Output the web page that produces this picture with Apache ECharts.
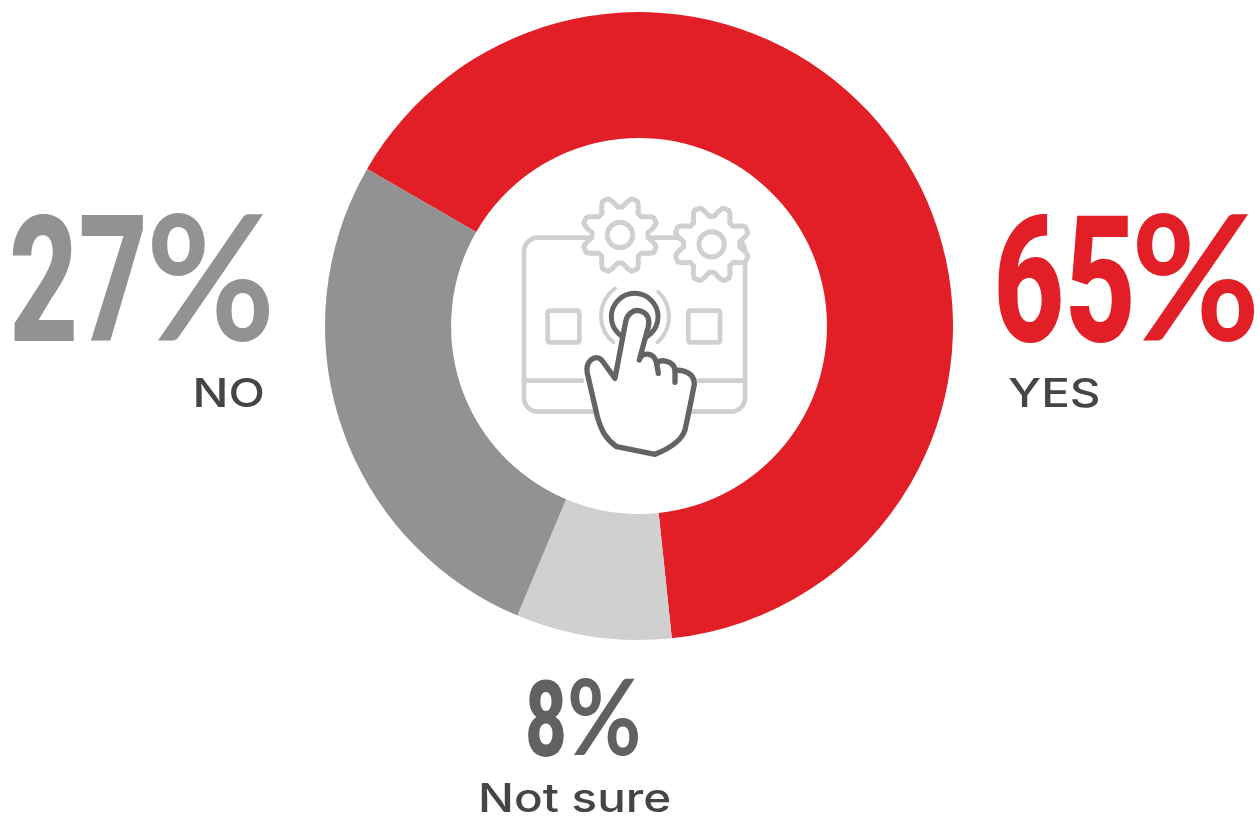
<!DOCTYPE html>
<html>
<head>
<meta charset="utf-8">
<style>html,body{margin:0;padding:0;background:#fff}#chart{width:1260px;height:816px}</style>
<script src="https://cdn.jsdelivr.net/npm/echarts@6/dist/echarts.min.js"></script>
</head>
<body>
<div id="chart"></div>
<script>
// Survey answers, listed clockwise around the ring
const categories = ['YES', 'Not sure', 'NO'];
const shares = [65, 8, 27];
const sliceColors = ['#e21e26', '#d0d0d0', '#929292'];
const figureColors = ['#e21e26', '#606261', '#929292'];

const LIGHT = '#d0d0d0';
const DARK = '#636463';

// Outline of an 8-toothed cog as a list of points
function cogPoints(cx, cy, rIn, rOut) {
  const pts = [];
  const steps = 240;
  for (let i = 0; i < steps; i++) {
    const a = (i / steps) * Math.PI * 2;
    const w = Math.cos(8 * (a - Math.PI / 8));
    const k = Math.max(-1, Math.min(1, w * 1.25));
    const r = rIn + (rOut - rIn) * (k + 1) / 2;
    pts.push([cx + r * Math.sin(a), cy - r * Math.cos(a)]);
  }
  return pts;
}

const handOutline =
  'M315 580 L347 410 C352 385 372 372 392 378 C412 384 420 402 415 425 L388 525 ' +
  'C395 500 432 500 440 535 C450 522 490 525 495 555 C515 555 553 560 553 598 ' +
  'C545 640 535 690 525 735 C515 765 480 790 435 808 L320 785 C290 765 275 740 262 695 L232 565 ' +
  'C225 530 255 505 275 525 L315 580 Z';
echarts.graphic.registerShape('handOutline', echarts.graphic.extendPath(handOutline, {}));

// Touch-screen pictogram, authored on a 250x280 box scaled by 3
const lineStyle = (color, w) => ({ stroke: color, lineWidth: w, fill: null, lineCap: 'round', lineJoin: 'round' });
const cog = (cx, cy) => ({
  type: 'polygon', shape: { points: cogPoints(cx, cy, 84, 114) },
  style: { stroke: LIGHT, lineWidth: 15, fill: '#fff', lineJoin: 'round' }
});
const pictogramParts = [
  { type: 'rect', shape: { x: 42, y: 158, width: 663, height: 522, r: 42 }, style: lineStyle(LIGHT, 14) },
  { type: 'rect', shape: { x: 113, y: 377, width: 95, height: 95, r: 6 }, style: lineStyle(LIGHT, 14) },
  { type: 'rect', shape: { x: 535, y: 377, width: 95, height: 95, r: 6 }, style: lineStyle(LIGHT, 14) },
  { type: 'line', shape: { x1: 42, y1: 587, x2: 215, y2: 587 }, style: lineStyle(LIGHT, 14) },
  { type: 'line', shape: { x1: 565, y1: 587, x2: 705, y2: 587 }, style: lineStyle(LIGHT, 14) },
  // Gears sit on white so the frame stops at their edge
  cog(330, 150),
  { type: 'circle', shape: { cx: 330, cy: 150, r: 38 }, style: lineStyle(LIGHT, 15) },
  cog(605, 178),
  { type: 'circle', shape: { cx: 605, cy: 178, r: 38 }, style: lineStyle(LIGHT, 15) },
  // Ripples around the touch point
  { type: 'arc', shape: { cx: 375, cy: 393, r: 102, startAngle: Math.PI * 0.72, endAngle: Math.PI * 1.3, clockwise: true }, style: lineStyle(LIGHT, 12) },
  { type: 'arc', shape: { cx: 375, cy: 395, r: 102, startAngle: -Math.PI * 0.26, endAngle: Math.PI * 0.27, clockwise: true }, style: lineStyle(LIGHT, 12) },
  { type: 'circle', shape: { cx: 374, cy: 395, r: 70 }, style: lineStyle(DARK, 15) },
  // Pointing hand
  { type: 'handOutline', style: { stroke: DARK, lineWidth: 16, fill: '#fff', lineJoin: 'round', lineCap: 'round' } },
  { type: 'line', shape: { x1: 440, y1: 535, x2: 445, y2: 565 }, style: lineStyle(DARK, 16) },
  { type: 'line', shape: { x1: 495, y1: 555, x2: 495, y2: 592 }, style: lineStyle(DARK, 16) }
];

// Big percentage figure: condensed digits, then a wider percent sign.
// k scales the whole figure; cy is the vertical centre of the glyphs.
function figure(i, digitX, pctX, cy, k, digitScale, pctScale) {
  return [
    {
      type: 'text', x: digitX, y: cy + 18.5 * k, scaleX: digitScale, scaleY: k,
      style: { text: String(shares[i]), align: 'left', verticalAlign: 'middle', fontFamily: 'Roboto', fontWeight: 800, fontSize: 177, fill: figureColors[i] }
    },
    {
      type: 'text', x: pctX, y: cy + 6 * k, scaleX: pctScale, scaleY: k,
      style: { text: '%', align: 'left', verticalAlign: 'middle', fontFamily: 'Lato', fontWeight: 700, fontSize: 175, fill: figureColors[i] }
    }
  ];
}
function caption(i, x, y, align) {
  return {
    type: 'text', x, y, scaleX: 1.22,
    style: { text: categories[i], align, verticalAlign: 'bottom', fontFamily: 'Inter', fontSize: 39, fontWeight: 500, fill: '#444546' }
  };
}

const chart = echarts.init(document.getElementById('chart'));
chart.setOption({
  animation: false,
  backgroundColor: '#fff',
  series: [{
    type: 'pie',
    center: [639, 326],
    radius: [188, 314],
    startAngle: 150,
    silent: true,
    label: { show: false },
    data: categories.map((name, i) => ({ name, value: shares[i], itemStyle: { color: sliceColors[i] } }))
  }],
  graphic: [
    { type: 'group', x: 510, y: 185, scaleX: 1 / 3, scaleY: 1 / 3, children: pictogramParts },
    ...figure(2, 9, 146, 278, 1, 0.68, 0.9),
    ...figure(0, 993, 1131, 278, 1, 0.7, 0.9),
    ...figure(1, 525, 567, 718, 0.6, 0.41, 0.52),
    caption(2, 265, 415, 'right'),
    caption(0, 1008, 415, 'left'),
    caption(1, 478, 820, 'left')
  ]
});
</script>
</body>
</html>
